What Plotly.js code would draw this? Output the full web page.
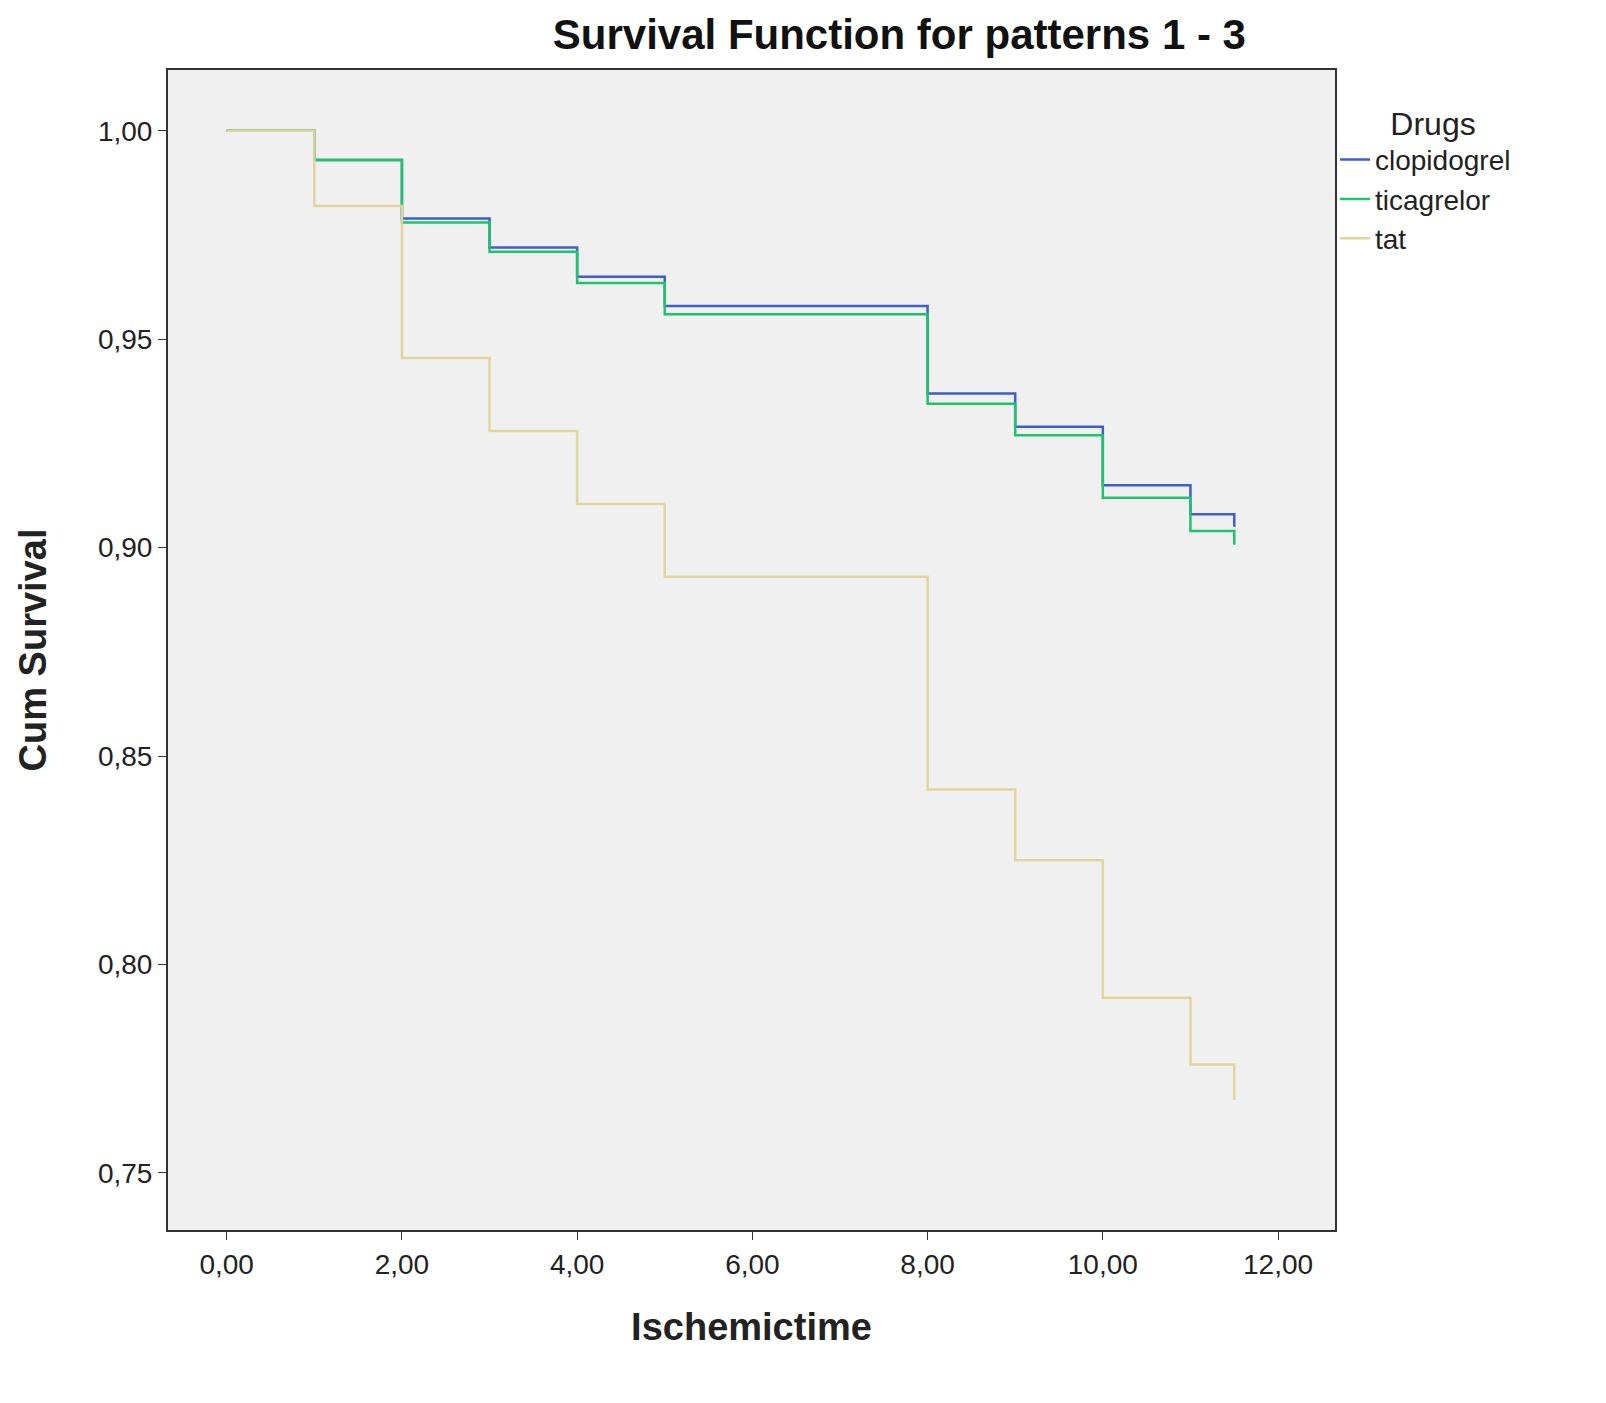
<!DOCTYPE html>
<html>
<head>
<meta charset="utf-8">
<script src="https://cdn.plot.ly/plotly-3.0.1.min.js"></script>
<style>body{margin:0;background:#fff}</style>
</head>
<body>
<div id="graph" style="width:1606px;height:1403px"></div>
<script>
var times = [0, 1, 2, 3, 4, 5, 8, 9, 10, 11, 11.5];
var clopidogrel = [1.0, 0.993, 0.979, 0.972, 0.965, 0.958, 0.937, 0.929, 0.915, 0.908, 0.905];
var ticagrelor = [1.0, 0.993, 0.978, 0.971, 0.9635, 0.956, 0.9345, 0.927, 0.912, 0.904, 0.9007];
var tat = [1.0, 0.982, 0.9455, 0.928, 0.9105, 0.893, 0.842, 0.825, 0.792, 0.776, 0.7675];

function trace(name, y, color){
    return {x: times, y: y, name: name, type: 'scatter', mode: 'lines',
        line: {shape: 'hv', color: color, width: 2.5}};
}

var data = [
    trace('clopidogrel', clopidogrel, '#3d5ecb'),
    trace('ticagrelor', ticagrelor, '#1fc46a'),
    trace('tat', tat, '#e0d59a')
];

var layout = {
    font: {family: 'Liberation Sans, Arial', color: '#222', size: 28},
    separators: ',.',
    paper_bgcolor: '#fff',
    plot_bgcolor: '#f0f0f0',
    margin: {l: 168, r: 271, t: 70, b: 173},
    title: {text: '<b>Survival Function for patterns 1 - 3</b>', x: 0.56, xanchor: 'center', y: 0.986, yanchor: 'top', font: {size: 42, color: '#111'}},
    xaxis: {range: [-0.67, 12.65], tickvals: [0, 2, 4, 6, 8, 10, 12], tickformat: '.2f',
        showgrid: false, zeroline: false, showline: true, mirror: true, linecolor: '#333', linewidth: 2,
        ticks: 'outside', ticklen: 8, tickcolor: '#333',
        title: {text: '<b>Ischemictime</b>', font: {size: 38}, standoff: 35}},
    yaxis: {range: [0.7363, 1.0146], tickvals: [0.75, 0.8, 0.85, 0.9, 0.95, 1.0], tickformat: '.2f',
        showgrid: false, zeroline: false, showline: true, mirror: true, linecolor: '#333', linewidth: 2,
        ticks: 'outside', ticklen: 8, tickcolor: '#333',
        title: {text: '<b>Cum Survival</b>', font: {size: 38}, standoff: 40}},
    legend: {x: 1.0, xanchor: 'left', y: 0.98, yanchor: 'top', bgcolor: 'rgba(0,0,0,0)',
        title: {text: '      Drugs', font: {size: 32}}, font: {size: 28}, tracegroupgap: 0},
    showlegend: true
};

Plotly.newPlot('graph', data, layout, {displayModeBar: false});
</script>
</body>
</html>
